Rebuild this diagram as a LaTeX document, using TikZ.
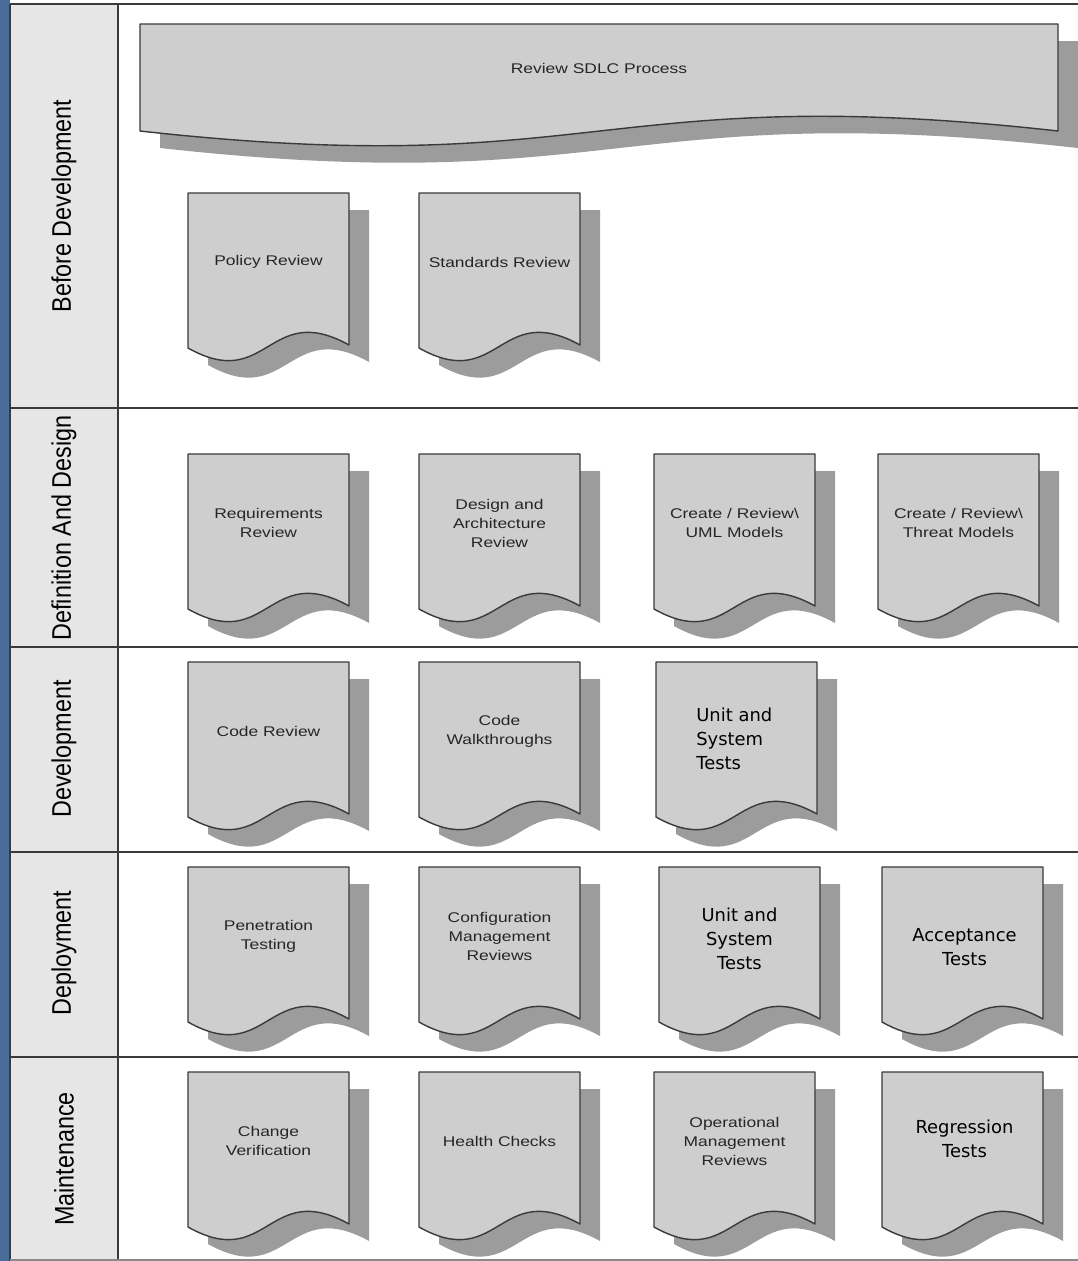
\documentclass[tikz,border=0pt]{standalone}
\usepackage{fontspec}
\setmainfont{Liberation Sans}
\newfontfamily\pixfont{DejaVu Sans}
\usepackage{tikz}

\definecolor{slideblue}{RGB}{74,108,152}
\definecolor{lanegray}{RGB}{230,230,230}
\definecolor{docgray}{RGB}{206,206,206}
\definecolor{shadowgray}{RGB}{156,156,156}
\definecolor{edgegray}{RGB}{58,58,58}

% document shape with its drop shadow, #1/#2 = top-left corner (px)
\newcommand\docbox[2]{%
  \fill[shadowgray, shift={(20,17)}] (#1,#2) -- (#1+161,#2) -- (#1+161,#2+152)
    .. controls (#1+80,#2+107) and (#1+80,#2+200) .. (#1,#2+155) -- cycle;
  \draw[docedge] (#1,#2) -- (#1+161,#2) -- (#1+161,#2+152)
    .. controls (#1+80,#2+107) and (#1+80,#2+200) .. (#1,#2+155) -- cycle;
}

\begin{document}
\begin{tikzpicture}[
  x=0.02cm, y=-0.02cm,
  docedge/.style={draw=edgegray, fill=docgray, line width=0.8pt, line join=round},
  laneline/.style={draw=edgegray, line width=1.1pt},
  doctext/.style={font=\fontsize{8}{10.8}\selectfont, align=center,
    xscale=1.24, inner sep=0pt, text=black!85},
  bigtext/.style={font=\pixfont\fontsize{10.2}{13.6}\selectfont, align=center,
    inner sep=0pt},
  lane/.style={rotate=90, yscale=1.15, font=\fontsize{13.3}{16}\selectfont,
    inner sep=0pt},
]
  \useasboundingbox (0,0) rectangle (1078,1261);

  % Slide edge and lane header column
  \fill[slideblue] (0,0) rectangle (10,1261);
  \fill[white] (10,0) rectangle (1078,1261);
  \fill[lanegray] (10,4) rectangle (118,1260);

  % Lane borders
  \draw[laneline] (10,4) -- (1078,4);
  \draw[laneline] (10,4) -- (10,1261);
  \draw[laneline] (118,4) -- (118,1261);
  \foreach \y in {408, 647, 852, 1057} {
    \draw[laneline] (10,\y) -- (1078,\y);
  }
  \draw[draw=edgegray!60, line width=0.8pt] (10,1260) -- (1078,1260);

  % Lane names
  \foreach \i/\txt/\yc in {1/Before Development/206, 2/Definition And Design/528,
      3/Development/749, 4/Deployment/953, 5/Maintenance/1159} {
    \node[lane] (lane\i) at (64,\yc) {\txt};
  }

  % Review SDLC Process (wide document)
  \fill[shadowgray, shift={(20,17)}] (140,24) -- (1058,24) -- (1058,131)
    .. controls (600,80) and (600,182) .. (140,131) -- cycle;
  \draw[docedge] (140,24) -- (1058,24) -- (1058,131)
    .. controls (600,80) and (600,182) .. (140,131) -- cycle;
  \node[doctext] (sdlc) at (599,68) {Review SDLC Process};

  % Before Development
  \docbox{188}{193}
  \docbox{419}{193}
  \node[doctext] (policy) at (268.5,262) {Policy Review};
  \node[doctext] (standards) at (499.5,262) {Standards Review};

  % Definition And Design
  \docbox{188}{454}
  \docbox{419}{454}
  \docbox{654}{454}
  \docbox{878}{454}
  \node[doctext] (reqrev) at (268.5,523) {Requirements\\Review};
  \node[doctext] (design) at (499.5,523) {Design and\\Architecture\\Review};
  \node[doctext] (uml) at (734.5,523) {Create / Review\textbackslash\\UML Models};
  \node[doctext] (threat) at (958.5,523) {Create / Review\textbackslash\\Threat Models};

  % Development
  \docbox{188}{662}
  \docbox{419}{662}
  \docbox{656}{662}
  \node[doctext] (code) at (268.5,731) {Code Review};
  \node[doctext] (walk) at (499.5,731) {Code\\Walkthroughs};
  \node[bigtext, align=left, anchor=west] (unitdev) at (696,739) {Unit and\\System\\Tests};

  % Deployment
  \docbox{188}{867}
  \docbox{419}{867}
  \docbox{659}{867}
  \docbox{882}{867}
  \node[doctext] (pentest) at (268.5,936) {Penetration\\Testing};
  \node[doctext] (config) at (499.5,936) {Configuration\\Management\\Reviews};
  \node[bigtext] (unitdep) at (739.5,939) {Unit and\\System\\Tests};
  \node[bigtext] (accept) at (964.5,947) {Acceptance\\Tests};

  % Maintenance
  \docbox{188}{1072}
  \docbox{419}{1072}
  \docbox{654}{1072}
  \docbox{882}{1072}
  \node[doctext] (change) at (268.5,1141) {Change\\Verification};
  \node[doctext] (health) at (499.5,1141) {Health Checks};
  \node[doctext] (opmgmt) at (734.5,1141) {Operational\\Management\\Reviews};
  \node[bigtext] (regress) at (964.5,1139) {Regression\\Tests};
\end{tikzpicture}
\end{document}
